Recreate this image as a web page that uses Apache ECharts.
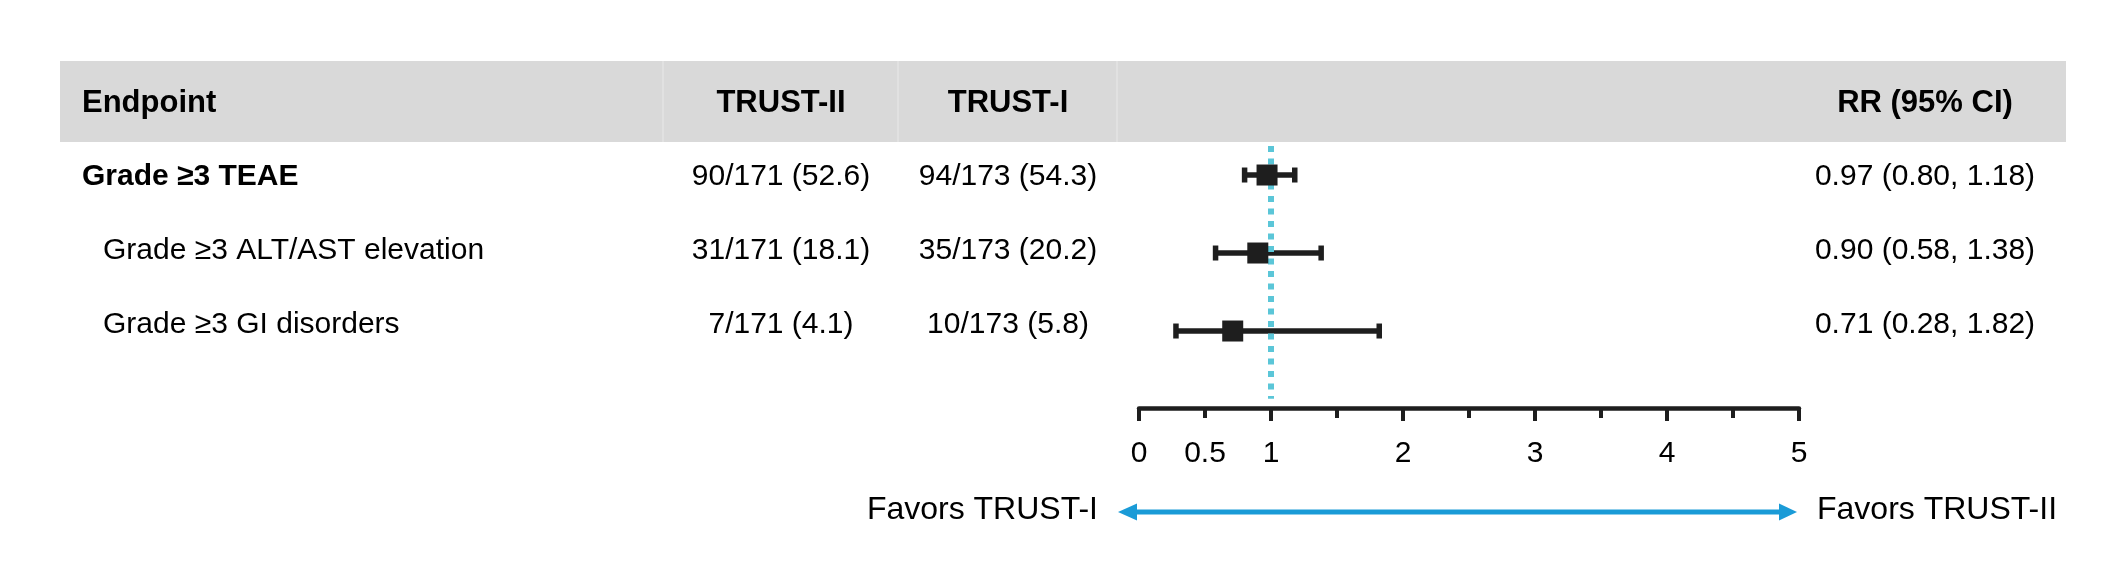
<!DOCTYPE html>
<html>
<head>
	<meta charset="UTF-8">
	<title>TRUST forest plot</title>
	<script src="https://cdn.jsdelivr.net/npm/echarts@6/dist/echarts.min.js"></script>
	<style>
		html, body { margin: 0; padding: 0; background: #fff; }
		#main { width: 2127px; height: 576px; }
	</style>
</head>
<body>
<div id="main"></div>
<script>
// data
var endpoints = ['Grade ≥3 TEAE', 'Grade ≥3 ALT/AST elevation', 'Grade ≥3 GI disorders'];
var endpointLevel = [0, 1, 1];
var headers = ['Endpoint', 'TRUST-II', 'TRUST-I', 'RR (95% CI)'];
var trust2Events = [90, 31, 7];
var trust2N = [171, 171, 171];
var trust2Pct = [52.6, 18.1, 4.1];
var trust1Events = [94, 35, 10];
var trust1N = [173, 173, 173];
var trust1Pct = [54.3, 20.2, 5.8];
var rr = [0.97, 0.90, 0.71];
var rrLow = [0.80, 0.58, 0.28];
var rrHigh = [1.18, 1.38, 1.82];
var nullRR = 1;
var xTicks = [0, 1, 2, 3, 4, 5];
var xHalfTicks = [0.5];
var favorLeft = 'Favors TRUST-I';
var favorRight = 'Favors TRUST-II';

// layout
var W = 2127;
var FONT = '"Liberation Sans", Arial, sans-serif';
var colX = { endpoint: 82, trust2: 781, trust1: 1008, rr: 1925 };
var indent = 21;
var yMin = -0.372, yMax = 2.987, refEnd = 2.87;
var ink = '#1e1e1e';

// table cells
var cells = [];
cells.push([colX.endpoint, 0, headers[0], 'left', 'bold', 31]);
cells.push([colX.trust2, 0, headers[1], 'center', 'bold', 31]);
cells.push([colX.trust1, 0, headers[2], 'center', 'bold', 31]);
cells.push([colX.rr, 0, headers[3], 'center', 'bold', 31]);
for (var i = 0; i < endpoints.length; i++) {
	var row = i + 1;
	cells.push([colX.endpoint + endpointLevel[i] * indent, row, endpoints[i], 'left', endpointLevel[i] === 0 ? 'bold' : 'normal', 30]);
	cells.push([colX.trust2, row, trust2Events[i] + '/' + trust2N[i] + ' (' + trust2Pct[i].toFixed(1) + ')', 'center', 'normal', 30]);
	cells.push([colX.trust1, row, trust1Events[i] + '/' + trust1N[i] + ' (' + trust1Pct[i].toFixed(1) + ')', 'center', 'normal', 30]);
	cells.push([colX.rr, row, rr[i].toFixed(2) + ' (' + rrLow[i].toFixed(2) + ', ' + rrHigh[i].toFixed(2) + ')', 'center', 'normal', 30]);
}

var ciData = [], pointData = [];
for (var j = 0; j < rr.length; j++) {
	ciData.push([rrLow[j], rrHigh[j], j]);
	pointData.push([rr[j], j]);
}

var myChart = echarts.init(document.getElementById('main'));
var option = {
	backgroundColor: '#fff',
	animation: false,
	grid: [
		{ left: 1139, width: 660, top: 146, height: 262 },
		{ left: 0, width: W, top: 66, height: 296 }
	],
	xAxis: [
		{
			gridIndex: 0, type: 'value', min: 0, max: 5, interval: 1, position: 'bottom',
			axisLine: { show: true, onZero: false, lineStyle: { color: ink, width: 4.5 } },
			axisTick: { show: true, length: 13, lineStyle: { color: ink, width: 4 } },
			minorTick: { show: true, splitNumber: 2, length: 10, lineStyle: { color: ink, width: 4 } },
			splitLine: { show: false },
			axisLabel: {
				margin: 31, fontSize: 30, color: '#000', fontFamily: FONT,
				formatter: function (v) { return xTicks.indexOf(v) >= 0 ? String(v) : ''; }
			}
		},
		{
			gridIndex: 0, type: 'value', min: 0, max: 5, interval: 0.5, position: 'bottom',
			axisLine: { show: false, onZero: false }, axisTick: { show: false }, splitLine: { show: false },
			axisLabel: {
				margin: 31, fontSize: 30, color: '#000', fontFamily: FONT,
				formatter: function (v) { return xHalfTicks.indexOf(v) >= 0 ? String(v) : ''; }
			}
		},
		{ gridIndex: 1, type: 'value', min: 0, max: W, show: false }
	],
	yAxis: [
		{ gridIndex: 0, type: 'value', min: yMin, max: yMax, inverse: true, show: false },
		{ gridIndex: 1, type: 'category', data: [0, 1, 2, 3], inverse: true, show: false }
	],
	series: [
		{
			// 95% CI whiskers
			type: 'custom', xAxisIndex: 0, yAxisIndex: 0, z: 3,
			data: ciData,
			renderItem: function (params, api) {
				var a = api.coord([api.value(0), api.value(2)]);
				var b = api.coord([api.value(1), api.value(2)]);
				var st = { stroke: ink, lineWidth: 5.5 };
				return {
					type: 'group',
					children: [
						{ type: 'line', shape: { x1: a[0], y1: a[1], x2: b[0], y2: b[1] }, style: st },
						{ type: 'line', shape: { x1: a[0], y1: a[1] - 7.5, x2: a[0], y2: a[1] + 7.5 }, style: st },
						{ type: 'line', shape: { x1: b[0], y1: b[1] - 7.5, x2: b[0], y2: b[1] + 7.5 }, style: st }
					]
				};
			}
		},
		{
			// line of no difference
			type: 'line', xAxisIndex: 0, yAxisIndex: 0, z: 4,
			data: [[nullRR, yMin], [nullRR, refEnd]],
			symbol: 'none',
			lineStyle: { color: '#5BC6D8', width: 6, type: [6, 6.5], cap: 'butt' }
		},
		{
			type: 'scatter', xAxisIndex: 0, yAxisIndex: 0, z: 5,
			data: pointData,
			symbol: 'rect', symbolSize: 21,
			itemStyle: { color: ink, opacity: 1 }
		},
		{
			// table text
			type: 'custom', xAxisIndex: 2, yAxisIndex: 1, z: 6,
			data: cells,
			renderItem: function (params, api) {
				var c = cells[params.dataIndex];
				var p = api.coord([c[0], c[1]]);
				return {
					type: 'text', x: p[0], y: p[1],
					style: {
						text: c[2], align: c[3], verticalAlign: 'middle',
						fontFamily: FONT, fontWeight: c[4], fontSize: c[5], fill: '#000'
					}
				};
			}
		}
	],
	graphic: [
		// header band
		{ type: 'rect', z: -1, shape: { x: 60, y: 61, width: 2006, height: 81 }, style: { fill: '#D9D9D9' } },
		{ type: 'line', z: 0, shape: { x1: 663, y1: 61, x2: 663, y2: 142 }, style: { stroke: '#E3E3E3', lineWidth: 1.5 } },
		{ type: 'line', z: 0, shape: { x1: 898, y1: 61, x2: 898, y2: 142 }, style: { stroke: '#E3E3E3', lineWidth: 1.5 } },
		{ type: 'line', z: 0, shape: { x1: 1117, y1: 61, x2: 1117, y2: 142 }, style: { stroke: '#E3E3E3', lineWidth: 1.5 } },
		// favours arrow
		{ type: 'line', shape: { x1: 1134, y1: 512, x2: 1782, y2: 512 }, style: { stroke: '#1A9BD7', lineWidth: 5 } },
		{ type: 'polygon', shape: { points: [[1118, 512], [1137, 503.5], [1137, 520.5]] }, style: { fill: '#1A9BD7' } },
		{ type: 'polygon', shape: { points: [[1797, 512], [1779, 503.5], [1779, 520.5]] }, style: { fill: '#1A9BD7' } },
		{ type: 'text', x: 1098, y: 510, style: { text: favorLeft, align: 'right', verticalAlign: 'middle', fontFamily: FONT, fontSize: 32, fill: '#000' } },
		{ type: 'text', x: 1817, y: 510, style: { text: favorRight, align: 'left', verticalAlign: 'middle', fontFamily: FONT, fontSize: 32, fill: '#000' } }
	]
};
myChart.setOption(option);
</script>
</body>
</html>
